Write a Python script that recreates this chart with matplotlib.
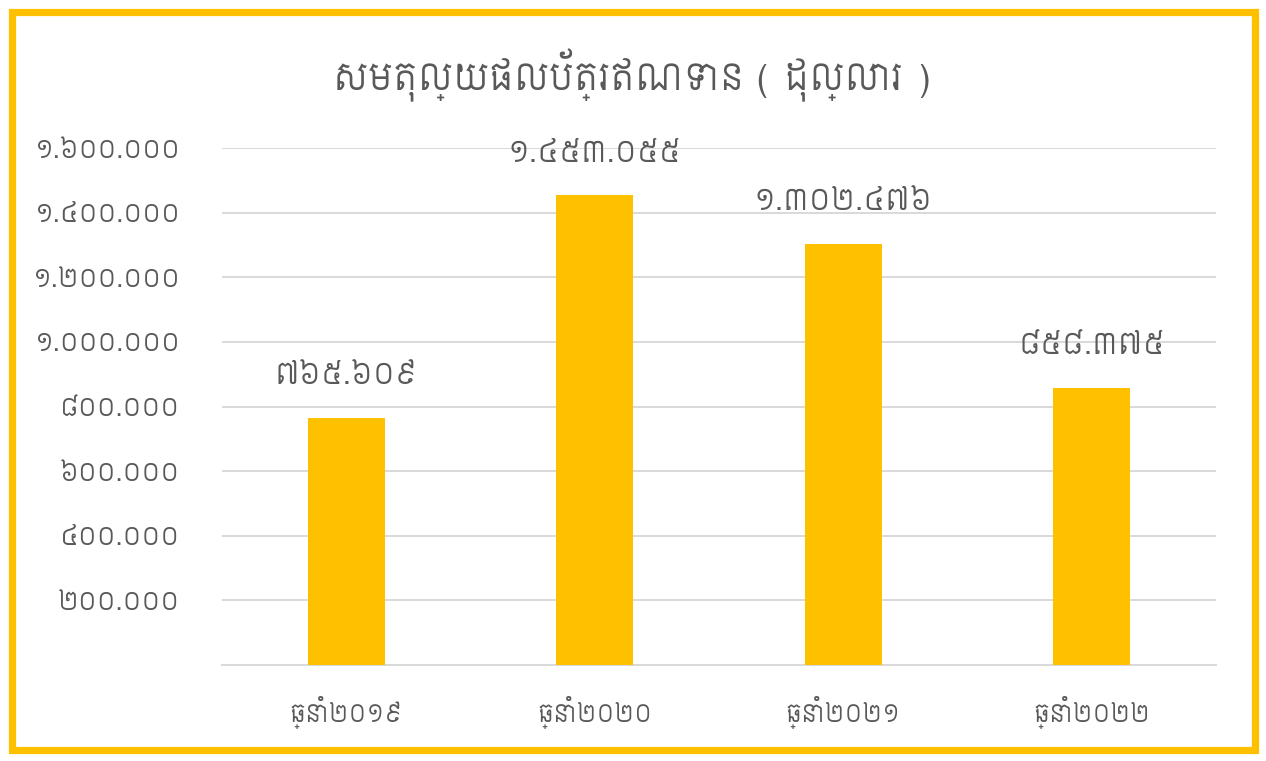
import matplotlib
matplotlib.use("Agg")
import matplotlib.pyplot as plt
from matplotlib.patches import Rectangle
from matplotlib.ticker import FuncFormatter

# data
years = ["ឆ្នាំ២០១៩", "ឆ្នាំ២០២០", "ឆ្នាំ២០២១", "ឆ្នាំ២០២២"]
balances = [765609, 1453055, 1302476, 858375]
y_ticks = [0, 200000, 400000, 600000, 800000, 1000000, 1200000, 1400000, 1600000]
title = "សមតុល្យផលប័ត្រឥណទាន ( ដុល្លារ )"

KHMER_DIGITS = str.maketrans("0123456789", "០១២៣៤៥៦៧៨៩")
FONT = ["Siemreap", "DejaVu Sans"]
GREY = "#595959"
YELLOW = "#FFC000"


def khmer_number(v):
    s = f"{int(v):,}".replace(",", ".")
    return s.translate(KHMER_DIGITS)


plt.rcParams["font.family"] = FONT

W, H = 1266, 761
fig = plt.figure(figsize=(W / 100, H / 100), dpi=100)
fig.patch.set_facecolor("white")

# yellow frame round the picture
fig.patches.append(Rectangle((11.5 / W, 11.5 / H), 1 - 23 / W, 1 - 23 / H,
                             transform=fig.transFigure, fill=False,
                             edgecolor=YELLOW, linewidth=5.2))

ax = fig.add_axes([222 / W, 1 - 665 / H, (1216 - 222) / W, (665 - 148) / H])
x = list(range(len(years)))
bars = ax.bar(x, balances, width=0.31, color=YELLOW, zorder=3)

ax.set_xlim(-0.5, len(years) - 0.5)
ax.set_ylim(0, 1600000)
ax.set_yticks(y_ticks)
ax.yaxis.set_major_formatter(FuncFormatter(lambda v, p: "" if v == 0 else khmer_number(v)))
ax.set_xticks(x)
ax.set_xticklabels(years)

ax.grid(axis="y", color="#D9D9D9", linewidth=1.4, zorder=0)
for side in ["top", "right", "left"]:
    ax.spines[side].set_visible(False)
ax.spines["bottom"].set_color("#D9D9D9")
ax.spines["bottom"].set_linewidth(1.4)

ax.tick_params(axis="y", length=0, pad=30, labelsize=18, labelcolor=GREY)
ax.tick_params(axis="x", length=0, pad=22, labelsize=17, labelcolor=GREY)

for rect, v in zip(bars, balances):
    ax.annotate(khmer_number(v), (rect.get_x() + rect.get_width() / 2, v),
                xytext=(0, 20), textcoords="offset points",
                ha="center", va="bottom", fontsize=21, color=GREY)

fig.text(0.5, 1 - 75 / H, title, ha="center", va="center",
         fontsize=26, color=GREY)

fig.savefig("out.png", dpi=100)
